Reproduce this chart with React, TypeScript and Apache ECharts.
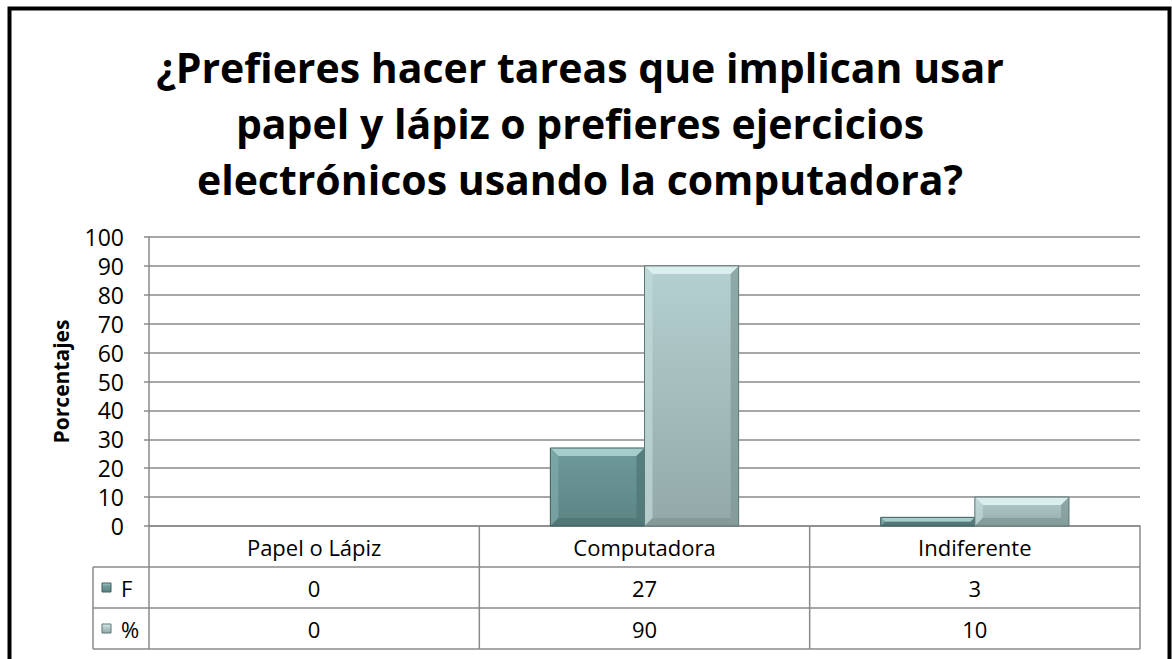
import React, { useEffect, useRef } from "react";
import * as echarts from "echarts";

const TITLE_LINES = [
  "¿Prefieres hacer tareas que implican usar",
  "papel y lápiz o prefieres ejercicios",
  "electrónicos usando la computadora?",
];
const CATEGORIES = ["Papel o Lápiz", "Computadora", "Indiferente"];
const SERIES_NAMES = ["F", "%"];
const F_VALUES = [0, 27, 3];
const PCT_VALUES = [0, 90, 10];
const Y_NAME = "Porcentajes";
const Y_MIN = 0;
const Y_MAX = 100;
const Y_INTERVAL = 10;

const W = 1172;
const H = 659;
const GRID_LEFT = 149;
const GRID_RIGHT_X = 1140;
const GRID_TOP = 237;
const GRID_BOTTOM_Y = 526;
const ROW_H = 41;
const TABLE_LEFT = 93;
const BAR_RATIO = 0.285;
const BEVEL = 8;
const FONT = "'Open Sans', sans-serif";
const LINE = "#8a8a8a";

type Pal = { top: string; bottom: string; bevTop: string; bevLeft: string; bevRight: string; bevBottom: string; stroke: string };
const PAL_F: Pal = {
  top: "#6f9a9a",
  bottom: "#5b8585",
  bevTop: "#a6cccc",
  bevLeft: "#80abab",
  bevRight: "#4e7373",
  bevBottom: "#4a6c6c",
  stroke: "#3f5c5c",
};
const PAL_P: Pal = {
  top: "#b5d0d1",
  bottom: "#92a9a8",
  bevTop: "#daeeee",
  bevLeft: "#c2dada",
  bevRight: "#7f9897",
  bevBottom: "#7a9190",
  stroke: "#5f7676",
};

function makeRender(side: number, pal: Pal) {
  return (params: any, api: any) => {
    const cat = api.value(0);
    const val = api.value(1);
    const top = api.coord([cat, val]);
    const base = api.coord([cat, 0]);
    const band = api.size([1, 0])[0];
    const w = band * BAR_RATIO;
    const h = base[1] - top[1];
    if (!(h > 0.5)) return { type: "group", children: [] };
    const x0 = side < 0 ? top[0] - w : top[0];
    const y0 = top[1];
    const x1 = x0 + w;
    const y1 = y0 + h;
    const b = Math.min(BEVEL, h / 2, w / 2);
    return {
      type: "group",
      children: [
        {
          type: "rect",
          shape: { x: x0, y: y0, width: w, height: h },
          style: {
            fill: {
              type: "linear", x: 0, y: 0, x2: 0, y2: 1,
              colorStops: [
                { offset: 0, color: pal.top },
                { offset: 1, color: pal.bottom },
              ],
            },
          },
        },
        { type: "polygon", shape: { points: [[x0, y0], [x1, y0], [x1 - b, y0 + b], [x0 + b, y0 + b]] }, style: { fill: pal.bevTop } },
        { type: "polygon", shape: { points: [[x0, y0], [x0 + b, y0 + b], [x0 + b, y1 - b], [x0, y1]] }, style: { fill: pal.bevLeft, opacity: 0.7 } },
        { type: "polygon", shape: { points: [[x1, y0], [x1, y1], [x1 - b, y1 - b], [x1 - b, y0 + b]] }, style: { fill: pal.bevRight, opacity: 0.7 } },
        { type: "polygon", shape: { points: [[x0, y1], [x0 + b, y1 - b], [x1 - b, y1 - b], [x1, y1]] }, style: { fill: pal.bevBottom, opacity: 0.6 } },
        { type: "rect", shape: { x: x0, y: y0, width: w, height: h }, style: { fill: "none", stroke: pal.stroke, lineWidth: 1 } },
      ],
    };
  };
}

export default function App() {
  const ref = useRef<HTMLDivElement>(null);
  useEffect(() => {
    if (!ref.current) return;
    const chart = echarts.init(ref.current, null, { renderer: "svg" });
    const catW = (GRID_RIGHT_X - GRID_LEFT) / CATEGORIES.length;
    const rows = [
      { name: SERIES_NAMES[0], values: F_VALUES, pal: PAL_F },
      { name: SERIES_NAMES[1], values: PCT_VALUES, pal: PAL_P },
    ];
    const g: any[] = [];
    g.push({ type: "rect", shape: { x: 9.5, y: 8.5, width: 1160, height: 720 }, style: { fill: "none", stroke: "#000", lineWidth: 4 }, z: 10 });
    g.push({
      type: "text", x: 580, y: 39,
      style: { text: TITLE_LINES.join("\n"), textAlign: "center", textVerticalAlign: "top", font: `bold 41px ${FONT}`, lineHeight: 56, fill: "#000" },
    });
    const tBottom = GRID_BOTTOM_Y + ROW_H * 3;
    for (let r = 1; r <= 3; r++) {
      const y = GRID_BOTTOM_Y + ROW_H * r;
      g.push({ type: "line", shape: { x1: TABLE_LEFT, y1: y, x2: GRID_RIGHT_X, y2: y }, style: { stroke: LINE, lineWidth: 1.5 } });
    }
    g.push({ type: "line", shape: { x1: TABLE_LEFT, y1: GRID_BOTTOM_Y + ROW_H, x2: TABLE_LEFT, y2: tBottom }, style: { stroke: LINE, lineWidth: 1.5 } });
    for (let c = 0; c <= CATEGORIES.length; c++) {
      const x = GRID_LEFT + catW * c;
      g.push({ type: "line", shape: { x1: x, y1: GRID_BOTTOM_Y, x2: x, y2: tBottom }, style: { stroke: LINE, lineWidth: 1.5 } });
    }
    CATEGORIES.forEach((c, i) => {
      g.push({ type: "text", x: GRID_LEFT + catW * (i + 0.5), y: GRID_BOTTOM_Y + ROW_H / 2, style: { text: c, textAlign: "center", textVerticalAlign: "middle", font: `22px ${FONT}`, fill: "#000" } });
    });
    rows.forEach((row, r) => {
      const cy = GRID_BOTTOM_Y + ROW_H * (r + 1.5);
      g.push({
        type: "rect", shape: { x: 102, y: cy - 4.5, width: 9, height: 9 },
        style: {
          fill: { type: "linear", x: 0, y: 0, x2: 0, y2: 1, colorStops: [{ offset: 0, color: row.pal.bevTop }, { offset: 0.35, color: row.pal.top }, { offset: 1, color: row.pal.bottom }] },
          stroke: row.pal.stroke, lineWidth: 1,
        },
      });
      g.push({ type: "text", x: 121, y: cy, style: { text: row.name, textAlign: "left", textVerticalAlign: "middle", font: `22px ${FONT}`, fill: "#000" } });
      row.values.forEach((v, i) => {
        g.push({ type: "text", x: GRID_LEFT + catW * (i + 0.5), y: cy, style: { text: String(v), textAlign: "center", textVerticalAlign: "middle", font: `22px ${FONT}`, fill: "#000" } });
      });
    });

    chart.setOption({
      animation: false,
      backgroundColor: "#fff",
      grid: { left: GRID_LEFT, right: W - GRID_RIGHT_X, top: GRID_TOP, bottom: H - GRID_BOTTOM_Y, containLabel: false },
      xAxis: {
        type: "category",
        data: CATEGORIES,
        axisLabel: { show: false },
        axisTick: { show: false },
        axisLine: { show: true, lineStyle: { color: LINE, width: 1.5 } },
        splitLine: { show: false },
      },
      yAxis: {
        type: "value",
        min: Y_MIN,
        max: Y_MAX,
        interval: Y_INTERVAL,
        name: Y_NAME,
        nameLocation: "middle",
        nameGap: 78,
        nameTextStyle: { fontFamily: FONT, fontWeight: "bold", fontSize: 21, color: "#000" },
        axisLabel: { fontFamily: FONT, fontSize: 23, color: "#000", margin: 25 },
        axisTick: { show: true, inside: false, length: 5, lineStyle: { color: LINE, width: 1.5 } },
        axisLine: { show: true, lineStyle: { color: LINE, width: 1.5 } },
        splitLine: { show: true, lineStyle: { color: LINE, width: 1.5 } },
      },
      series: [
        {
          type: "custom",
          name: SERIES_NAMES[0],
          renderItem: makeRender(-1, PAL_F),
          data: F_VALUES.map((v, i) => [i, v]),
          encode: { x: 0, y: 1 },
          z: 3,
        },
        {
          type: "custom",
          name: SERIES_NAMES[1],
          renderItem: makeRender(1, PAL_P),
          data: PCT_VALUES.map((v, i) => [i, v]),
          encode: { x: 0, y: 1 },
          z: 3,
        },
      ],
      graphic: g,
    });
    return () => chart.dispose();
  }, []);
  return <div ref={ref} style={{ position: "absolute", left: 0, top: 0, width: W, height: H }} />;
}
